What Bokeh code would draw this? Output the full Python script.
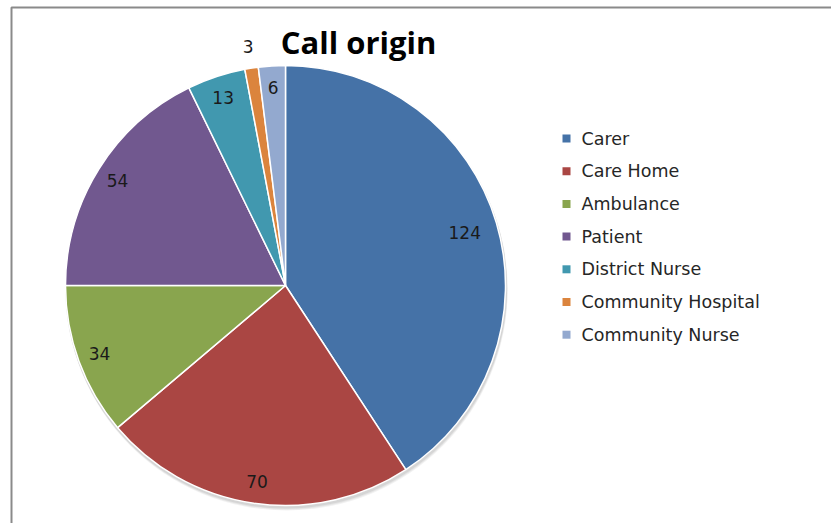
import math
from bokeh.plotting import figure
from bokeh.models import Range1d
from bokeh.core.properties import value
from bokeh.embed import file_html
from bokeh.resources import INLINE

categories = ["Carer", "Care Home", "Ambulance", "Patient", "District Nurse",
              "Community Hospital", "Community Nurse"]
counts = [124, 70, 34, 54, 13, 3, 6]
colors = ["#4572A7", "#AA4643", "#89A54E", "#71588F", "#4198AF", "#DB843D", "#93A9CF"]
label_r = [0.85, 0.9, 0.9, 0.9, 0.9, 1.1, 0.9]
title_text = "Call origin"

W, H = 831, 523
p = figure(width=W, height=H, output_backend="svg", toolbar_location=None,
           x_range=Range1d(0, W), y_range=Range1d(0, H), min_border=0,
           background_fill_color="white", border_fill_color="white")
p.axis.visible = False
p.grid.visible = False
p.outline_line_color = None

def px(x):
    return x

def py(y):
    return H - y

# frame border (top & left)
p.line([px(11), px(11), W], [0, py(7), py(7)], line_color="#8a8a8a", line_width=2)

cx, cy, R = px(285), py(285), 220
total = sum(counts)

# shadow
for off, a in [(4, 0.10), (3, 0.12), (2, 0.15)]:
    p.circle([cx + off * 0.3], [cy - off], radius=R + 1, fill_color="#808080",
             fill_alpha=a, line_color=None)

starts, ends, lx, ly = [], [], [], []
cum = 0
for v, lr in zip(counts, label_r):
    a0 = math.pi / 2 - cum / total * 2 * math.pi
    cum += v
    a1 = math.pi / 2 - cum / total * 2 * math.pi
    starts.append(a0)
    ends.append(a1)
    m = (a0 + a1) / 2
    lx.append(cx + R * lr * math.cos(m))
    ly.append(cy + R * lr * math.sin(m))

p.wedge(x=cx, y=cy, radius=R, start_angle=starts, end_angle=ends, direction="clock",
        fill_color=colors, line_color="white", line_width=1.5)

p.text(x=lx, y=ly, text=[str(v) for v in counts], text_align="center",
       text_baseline="middle", text_font=value("DejaVu Sans"), text_font_size="17px",
       text_color="#1a1a1a")

# title
p.text(x=[px(358)], y=[py(41)], text=[title_text], text_align="center",
       text_baseline="alphabetic", text_font=value("Open Sans"), text_font_style="bold",
       text_font_size="31px", text_color="#000000")

# legend
ys = [py(138 + i * 32.7) for i in range(len(categories))]
p.scatter(x=[px(566)] * len(categories), y=ys, marker="square", size=8,
          fill_color=colors, line_color=None)
p.text(x=[px(581)] * len(categories), y=ys, text=categories, text_align="left",
       text_baseline="middle", text_font=value("DejaVu Sans"), text_font_size="17.5px",
       text_color="#262626")

open("out.html", "w").write(file_html(p, INLINE))
